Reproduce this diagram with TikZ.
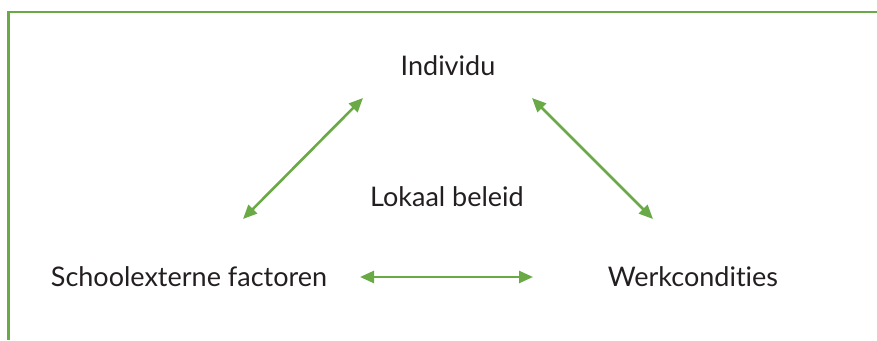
\documentclass[tikz,border=0pt]{standalone}
\usepackage{fontspec}
\setmainfont{Lato}[Ligatures=NoCommon]
\usetikzlibrary{arrows.meta}
\definecolor{grn}{HTML}{6AAA46}
\definecolor{txt}{HTML}{231F20}
\tikzset{
  lbl/.style={font=\fontsize{27}{32}\selectfont, text=txt, inner sep=0pt, anchor=base},
  dbl/.style={grn, line width=2.6pt, {Triangle[length=14pt,width=12pt]}-{Triangle[length=14pt,width=12pt]}},
  frame/.style={grn, line width=2.2pt}
}
\begin{document}
\begin{tikzpicture}[x=1pt,y=1pt]
\useasboundingbox (0,0) rectangle (877,340);
\coordinate (fa) at (877,328);
\coordinate (fb) at (8.5,328);
\coordinate (fc) at (8.5,0);
\draw[frame] (fa) -- (fb) -- (fc);
\node[lbl] (ind) at (448,264) {Individu};
\node[lbl] (lok) at (447,133) {Lokaal beleid};
\node[lbl] (sch) at (189,54) {Schoolexterne factoren};
\node[lbl] (wer) at (693,54) {Werkcondities};
\coordinate (a1) at (243,121);
\coordinate (a2) at (363,242);
\coordinate (b1) at (532,242);
\coordinate (b2) at (653,121);
\coordinate (c1) at (360,63);
\coordinate (c2) at (533,63);
\draw[dbl] (a1) -- (a2);
\draw[dbl] (b1) -- (b2);
\draw[dbl] (c1) -- (c2);
\end{tikzpicture}
\end{document}
